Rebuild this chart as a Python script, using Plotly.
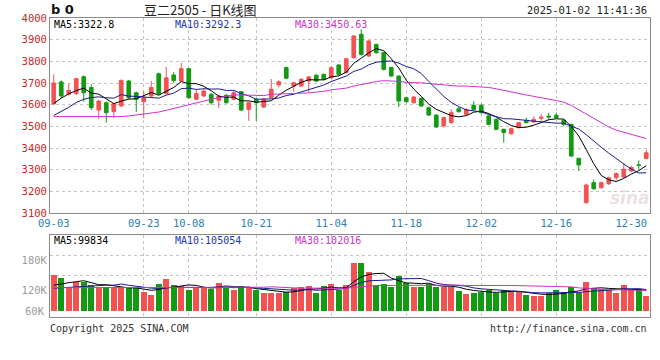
import plotly.graph_objects as go

# ---------------- data ----------------
tick_idx = [0, 12, 18, 27, 37, 47, 57, 67, 77]
tick_labels = ["09-03", "09-23", "10-08", "10-21", "11-04", "11-18", "12-02", "12-16", "12-30"]

opens = [3604, 3705, 3648, 3651, 3729, 3679, 3575, 3609, 3568, 3594,
         3709, 3655, 3614, 3640, 3743, 3651, 3737, 3709, 3766, 3625,
         3640, 3648, 3620, 3643, 3625, 3660, 3578, 3625, 3589, 3632,
         3691, 3771, 3686, 3686, 3709, 3736, 3740, 3724, 3783, 3748,
         3817, 3925, 3825, 3878, 3840, 3771, 3732, 3632, 3609, 3629,
         3586, 3552, 3502, 3517, 3581, 3555, 3597, 3597, 3548, 3532,
         3486, 3466, 3494, 3528, 3520, 3537, 3547, 3551, 3528, 3509,
         3352, 3148, 3240, 3217, 3235, 3263, 3266, 3294, 3322, 3352]
highs = [3740, 3712, 3695, 3724, 3735, 3694, 3622, 3614, 3608, 3716,
         3714, 3660, 3663, 3709, 3748, 3774, 3750, 3794, 3770, 3670,
         3675, 3652, 3645, 3650, 3665, 3664, 3614, 3630, 3630, 3718,
         3712, 3776, 3706, 3722, 3732, 3740, 3744, 3776, 3788, 3816,
         3920, 3948, 3898, 3882, 3845, 3775, 3736, 3636, 3640, 3633,
         3590, 3556, 3545, 3578, 3590, 3583, 3617, 3605, 3552, 3536,
         3490, 3494, 3520, 3540, 3545, 3556, 3563, 3563, 3532, 3512,
         3356, 3235, 3255, 3245, 3268, 3287, 3330, 3318, 3343, 3392]
lows = [3598, 3630, 3642, 3645, 3614, 3575, 3534, 3517, 3537, 3590,
        3625, 3566, 3537, 3636, 3645, 3647, 3700, 3705, 3628, 3620,
        3636, 3600, 3585, 3605, 3620, 3570, 3525, 3525, 3585, 3628,
        3680, 3718, 3660, 3682, 3655, 3705, 3712, 3720, 3735, 3744,
        3812, 3828, 3820, 3835, 3758, 3728, 3589, 3610, 3605, 3590,
        3548, 3492, 3495, 3512, 3563, 3550, 3574, 3558, 3505, 3482,
        3425, 3462, 3490, 3514, 3516, 3526, 3530, 3536, 3500, 3358,
        3294, 3142, 3205, 3212, 3230, 3250, 3262, 3290, 3302, 3348]
closes = [3700, 3640, 3666, 3720, 3655, 3586, 3617, 3563, 3604, 3712,
          3632, 3625, 3632, 3679, 3651, 3724, 3712, 3766, 3632, 3651,
          3663, 3609, 3640, 3609, 3655, 3575, 3609, 3609, 3625, 3671,
          3706, 3722, 3701, 3717, 3728, 3709, 3717, 3771, 3740, 3812,
          3917, 3832, 3894, 3840, 3763, 3732, 3617, 3614, 3635, 3594,
          3552, 3497, 3540, 3563, 3568, 3578, 3578, 3563, 3509, 3486,
          3471, 3489, 3517, 3517, 3532, 3542, 3543, 3540, 3509, 3363,
          3322, 3229, 3212, 3240, 3263, 3282, 3302, 3310, 3320, 3378]

# volume in thousands, read against the panel's K scale
vols_k = [151, 145, 128, 138, 138, 131, 125, 128, 125, 125,
          125, 125, 118, 111, 133, 143, 131, 130, 121, 128,
          125, 123, 136, 125, 121, 129, 125, 121, 115, 115,
          116, 118, 125, 128, 130, 116, 129, 133, 121, 131,
          176, 176, 158, 131, 133, 128, 150, 136, 128, 128,
          133, 128, 128, 127, 119, 113, 116, 118, 121, 115,
          121, 118, 118, 111, 109, 109, 115, 121, 118, 127,
          116, 138, 125, 123, 121, 116, 131, 121, 123, 109]

# moving-average values before a full window exists
ma5_head = [3605, 3630, 3650, 3665]
ma10_head = [3550, 3568, 3588, 3610, 3625, 3633, 3636, 3632, 3630]
ma30_head = [3545, 3545, 3545, 3545, 3545, 3545, 3543, 3542, 3542, 3545,
             3548, 3552, 3555, 3560, 3566, 3574, 3583, 3590, 3598, 3608,
             3617, 3625, 3632, 3638, 3645, 3645, 3644, 3643, 3642]
vma5_head = [131, 134, 136, 138]
vma10_head = [125, 126, 127, 128, 129, 130, 131, 131, 131]
vma30_head = [126, 126, 126, 126, 127, 127, 127, 127, 127, 127,
              127, 127, 127, 127, 127, 127, 127, 127, 127, 127,
              127, 127, 127, 127, 127, 127, 127, 127, 127]

grid_idx = [12, 18, 27, 37, 47, 57, 67]

# ---------------- helpers ----------------
def moving_avg(vals, n, head):
    out = []
    for i in range(len(vals)):
        if i < n - 1:
            out.append(head[i])
        else:
            out.append(sum(vals[i - n + 1:i + 1]) / n)
    return out

x = list(range(len(closes)))
vols = [v * 1000 for v in vols_k]
ma5 = moving_avg(closes, 5, ma5_head)
ma10 = moving_avg(closes, 10, ma10_head)
ma30 = moving_avg(closes, 30, ma30_head)
vma5 = [v * 1000 for v in moving_avg(vols_k, 5, vma5_head)]
vma10 = [v * 1000 for v in moving_avg(vols_k, 10, vma10_head)]
vma30 = [v * 1000 for v in moving_avg(vols_k, 30, vma30_head)]

RED = "#f25252"
GREEN = "#139a13"
C_MA5 = "#000000"
C_MA10 = "#1a1a90"
C_MA30 = "#cc33cc"
MONO = "DejaVu Sans Mono"
VBASE = 79000

bar_colors = [RED if c >= o else GREEN for o, c in zip(opens, closes)]
bar_len = [v - VBASE for v in vols]

fig = go.Figure()
fig.add_trace(go.Candlestick(
    x=x, open=opens, high=highs, low=lows, close=closes,
    increasing=dict(line=dict(color=RED, width=1), fillcolor=RED),
    decreasing=dict(line=dict(color=GREEN, width=1), fillcolor=GREEN),
    xaxis="x", yaxis="y", hoverinfo="skip"))
for vals, col in [(ma5, C_MA5), (ma10, C_MA10), (ma30, C_MA30)]:
    fig.add_trace(go.Scatter(x=x, y=vals, mode="lines", line=dict(color=col, width=1),
                             xaxis="x", yaxis="y", hoverinfo="skip"))

fig.add_trace(go.Bar(x=x, y=bar_len, base=VBASE, marker=dict(color=bar_colors, line=dict(width=0)),
                     width=0.78, xaxis="x2", yaxis="y2", hoverinfo="skip"))
for vals, col in [(vma5, C_MA5), (vma10, C_MA10), (vma30, C_MA30)]:
    fig.add_trace(go.Scatter(x=x, y=vals, mode="lines", line=dict(color=col, width=1),
                             xaxis="x2", yaxis="y2", hoverinfo="skip"))

frame = dict(showline=True, mirror=True, linecolor="#8a8a8a", linewidth=1, zeroline=False)
xgrid_minor = dict(tickvals=grid_idx, showgrid=True, gridcolor="#c4c4c4", griddash="dot",
                   gridwidth=1, ticks="")

fig.update_layout(
    width=660, height=360, autosize=False,
    margin=dict(l=50, r=10, t=18, b=43, pad=0),
    paper_bgcolor="white", plot_bgcolor="white",
    showlegend=False, bargap=0,
    xaxis=dict(domain=[0, 1], anchor="y", range=[-0.5, 79.5], rangeslider=dict(visible=False),
               tickmode="array", tickvals=tick_idx, ticktext=tick_labels, showgrid=False,
               ticks="", tickfont=dict(family=MONO, size=10.5, color="#2f7fb0"),
               minor=xgrid_minor, **frame),
    yaxis=dict(domain=[(317 - 213) / 299, 1], anchor="x", range=[3100, 4000],
               tickmode="array", tickvals=list(range(3100, 4001, 100)),
               showgrid=True, gridcolor="#c4c4c4", griddash="dot", ticks="",
               tickfont=dict(family=MONO, size=10.5, color="#c82828"), **frame),
    xaxis2=dict(domain=[0, 1], anchor="y2", range=[-0.5, 79.5], showticklabels=False,
                showgrid=False, ticks="", minor=xgrid_minor, **frame),
    yaxis2=dict(domain=[0, (317 - 235) / 299], anchor="x2", range=[67400, 231400],
                tickmode="array", tickvals=[120000, 180000], ticktext=["120K", "180K"],
                showgrid=False, ticks="",
                minor=dict(tickvals=[151000, 191000], showgrid=True, gridcolor="#c4c4c4",
                           griddash="dot", ticks=""),
                tickfont=dict(family=MONO, size=10.5, color="#9a9a9a"), **frame),
)

def px(xp):
    return (xp - 50) / 600

def py(yp):
    return (317 - yp) / 299

ann = []
def text(t, xp, yp, anchor="left", color="#000", size=10, family=MONO):
    ann.append(dict(text=t, x=px(xp), y=py(yp), xref="paper", yref="paper", xanchor=anchor,
                    yanchor="middle", showarrow=False, borderpad=0,
                    font=dict(family=family, size=size, color=color)))

text("<b>b 0</b>", 50, 9, size=13, color="#111", family="DejaVu Sans")
text("豆二2505 - 日K线图", 200, 9, anchor="center", size=13, color="#222",
     family="Noto Sans CJK SC")
text("2025-01-02 11:41:36", 648, 10, anchor="right", size=10.5, color="#222")
text("MA5:3322.8", 53, 25, color=C_MA5)
text("MA10:3292.3", 174, 25, color="#2233bb")
text("MA30:3450.63", 294, 25, color=C_MA30)
text("MA5:99834", 53, 241, color=C_MA5)
text("MA10:105054", 174, 241, color="#2233bb")
text("MA30:102016", 294, 241, color=C_MA30)
text("Copyright 2025 SINA.COM", 49, 328, color="#333")
text("http://finance.sina.com.cn", 648, 328, anchor="right", color="#333")
text("<b><i>sina</i></b>", 630, 198, anchor="center", size=17, color="rgba(200,165,165,0.35)",
     family="DejaVu Sans")

for lbl, val in [("300K", 300000), ("240K", 240000), ("60K", 80000)]:
    ann.append(dict(text=lbl, x=-0.005, y=val, xref="paper", yref="y2", xanchor="right",
                    yanchor="middle", showarrow=False,
                    font=dict(family=MONO, size=10.5, color="#9a9a9a")))

fig.update_layout(annotations=ann)
fig.write_html("out.html", config={"displayModeBar": False, "staticPlot": True},
               post_script="document.body.style.margin='0';document.body.style.padding='0';")
